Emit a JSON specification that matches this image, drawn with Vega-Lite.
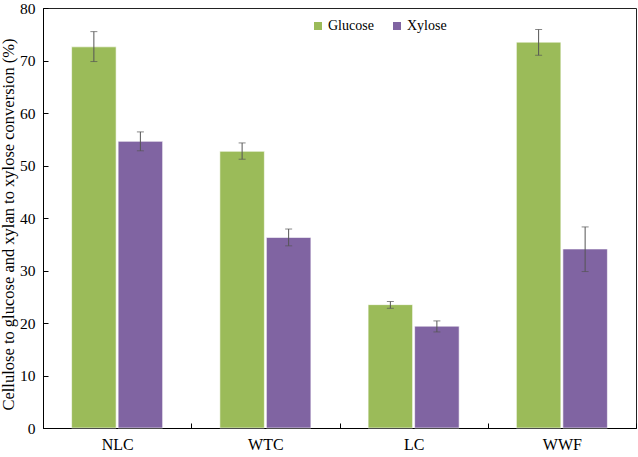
{
  "$schema": "https://vega.github.io/schema/vega-lite/v6.json",
  "width": 593,
  "height": 420,
  "autosize": {"type": "none"},
  "padding": {"left": 43, "top": 8, "right": 2, "bottom": 29},
  "background": "white",
  "config": {
    "font": "Liberation Serif, Times New Roman, serif",
    "view": {"stroke": "#222", "strokeWidth": 1},
    "axis": {"grid": false, "domainColor": "black", "tickColor": "black", "labelColor": "black", "titleColor": "black", "labelFont": "Liberation Serif, Times New Roman, serif", "titleFont": "Liberation Serif, Times New Roman, serif"},
    "legend": {"labelFont": "Liberation Serif, Times New Roman, serif"}
  },
  "data": {
    "values": [
      {"cat": "NLC", "sugar": "Glucose", "value": 72.6, "lo": 69.8, "hi": 75.5},
      {"cat": "NLC", "sugar": "Xylose", "value": 54.6, "lo": 52.8, "hi": 56.4},
      {"cat": "WTC", "sugar": "Glucose", "value": 52.7, "lo": 51.2, "hi": 54.3},
      {"cat": "WTC", "sugar": "Xylose", "value": 36.3, "lo": 34.7, "hi": 37.9},
      {"cat": "LC", "sugar": "Glucose", "value": 23.5, "lo": 22.8, "hi": 24.1},
      {"cat": "LC", "sugar": "Xylose", "value": 19.4, "lo": 18.3, "hi": 20.4},
      {"cat": "WWF", "sugar": "Glucose", "value": 73.5, "lo": 71.0, "hi": 75.9},
      {"cat": "WWF", "sugar": "Xylose", "value": 34.1, "lo": 29.8, "hi": 38.3}
    ]
  },
  "encoding": {
    "x": {
      "field": "cat", "type": "nominal", "sort": ["NLC", "WTC", "LC", "WWF"],
      "scale": {"paddingInner": 0, "paddingOuter": 0},
      "axis": {"title": null, "labelAngle": 0, "labelFontSize": 16, "labelPadding": 13, "tickSize": -5, "tickWidth": 1, "tickBand": "extent", "domainWidth": 1}
    },
    "xOffset": {
      "field": "sugar", "type": "nominal", "sort": ["Glucose", "Xylose"],
      "scale": {"paddingInner": 0.043, "paddingOuter": 0.615}
    }
  },
  "layer": [
    {
      "mark": {"type": "bar", "stroke": "white", "strokeWidth": 0.6},
      "encoding": {
        "y": {
          "field": "value", "type": "quantitative",
          "scale": {"domain": [0, 80], "nice": false},
          "axis": {"title": "Cellulose to glucose and xylan to xylose conversion (%)", "titleFontSize": 16.5, "titleFontWeight": "normal", "titleX": -34.5, "titleY": 216, "titleBaseline": "middle", "labelFontSize": 15.5, "values": [0, 10, 20, 30, 40, 50, 60, 70, 80], "labelOverlap": false, "tickSize": -5, "tickWidth": 1, "labelPadding": 13, "domainWidth": 1}
        },
        "color": {
          "field": "sugar", "type": "nominal",
          "scale": {"domain": ["Glucose", "Xylose"], "range": ["#9BBB59", "#8064A2"]},
          "legend": {"title": null, "orient": "none", "legendX": 268, "legendY": 11, "direction": "horizontal", "symbolType": "square", "symbolSize": 64, "symbolStrokeWidth": 0, "labelFontSize": 14, "labelColor": "black", "columnPadding": 16, "labelOffset": 3}
        }
      }
    },
    {
      "mark": {"type": "rule", "color": "#555", "strokeWidth": 1},
      "encoding": {
        "y": {"field": "lo", "type": "quantitative"},
        "y2": {"field": "hi"}
      }
    },
    {
      "mark": {"type": "tick", "color": "#555", "thickness": 1, "size": 7},
      "encoding": {"y": {"field": "lo", "type": "quantitative"}}
    },
    {
      "mark": {"type": "tick", "color": "#555", "thickness": 1, "size": 7},
      "encoding": {"y": {"field": "hi", "type": "quantitative"}}
    }
  ]
}
